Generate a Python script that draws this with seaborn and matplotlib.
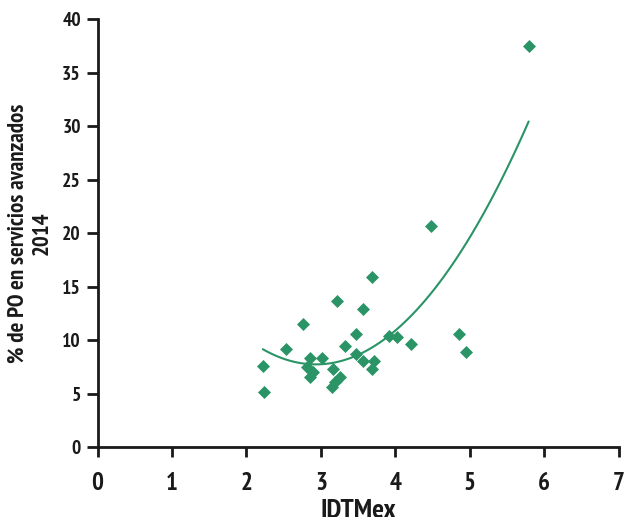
import matplotlib
matplotlib.use("Agg")
import matplotlib.pyplot as plt
import seaborn as sns
import pandas as pd

# IDTMex index and share of employed population in advanced services (2014)
idtmex = [5.79, 4.48, 3.69, 3.22, 3.56, 2.76, 3.47, 4.86, 3.91, 4.02,
          4.21, 3.32, 2.53, 4.95, 3.47, 2.86, 3.01, 3.57, 3.71, 2.22,
          2.82, 3.16, 3.68, 2.89, 2.86, 3.26, 3.19, 3.15, 2.24]
po_servicios = [37.5, 20.7, 15.9, 13.7, 12.9, 11.5, 10.6, 10.6, 10.35, 10.3,
                9.65, 9.45, 9.2, 8.85, 8.7, 8.35, 8.3, 8.05, 8.05, 7.55,
                7.5, 7.3, 7.3, 7.0, 6.55, 6.55, 6.1, 5.6, 5.2]

x_ticks = [0, 1, 2, 3, 4, 5, 6, 7]
y_ticks = [0, 5, 10, 15, 20, 25, 30, 35, 40]

df = pd.DataFrame({"IDTMex": idtmex, "po": po_servicios})

sns.set_theme(style="white")
plt.rcParams["font.family"] = ["PT Sans Narrow", "DejaVu Sans"]
plt.rcParams["font.weight"] = "bold"

green = "#2a9466"
ink = "#1a1a1a"

fig = plt.figure(figsize=(6.25, 5.17), dpi=100)
ax = fig.add_axes([0.156, 0.135, 0.834, 0.828])

sns.regplot(data=df, x="IDTMex", y="po", order=2, ci=None, truncate=True,
            marker="D", color=green, ax=ax,
            scatter_kws={"s": 44, "linewidths": 0, "alpha": 1},
            line_kws={"linewidth": 1.5})

ax.set_xlim(0, 7)
ax.set_ylim(0, 40)
ax.set_xticks(x_ticks, labels=[str(t) for t in x_ticks],
              fontsize=18, fontweight="bold", color=ink)
ax.set_yticks(y_ticks, labels=[str(t) for t in y_ticks],
              fontsize=14, fontweight="bold", color=ink)
ax.tick_params(axis="x", length=7, width=2, direction="out",
               color=ink, bottom=True, pad=11)
ax.tick_params(axis="y", length=8, width=2, direction="out",
               color=ink, left=True, pad=4)

for side in ("top", "right"):
    ax.spines[side].set_visible(False)
for side in ("left", "bottom"):
    ax.spines[side].set_linewidth(2)
    ax.spines[side].set_color(ink)

ax.set_xlabel("IDTMex", fontsize=20, fontweight="bold", color=ink, labelpad=2.5)
ax.set_ylabel("% de PO en servicios avanzados\n2014", fontsize=16.5,
              fontweight="bold", color=ink, labelpad=7, linespacing=1.2)

fig.savefig("out.png", dpi=100)
